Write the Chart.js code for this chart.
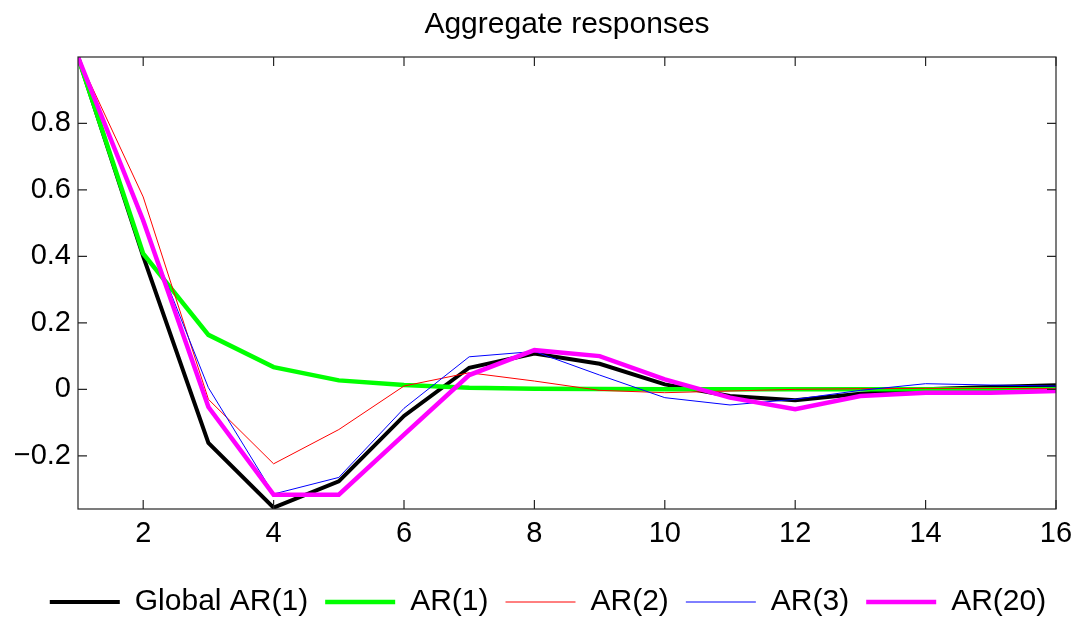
<!DOCTYPE html>
<html>
<head>
<meta charset="utf-8">
<script src="https://cdn.jsdelivr.net/npm/chart.js@4/dist/chart.umd.min.js"></script>
<style>
  html, body { margin: 0; padding: 0; background: #fff; }
  #wrap { width: 1084px; height: 622px; }
</style>
</head>
<body>
<div id="wrap"><canvas id="chart" width="1084" height="622"></canvas></div>
<script>
// data
var steps = [1, 2, 3, 4, 5, 6, 7, 8, 9, 10, 11, 12, 13, 14, 15, 16];
var globalAR1 = [1.0, 0.40, -0.161, -0.356, -0.277, -0.08, 0.065, 0.108, 0.077, 0.015, -0.02, -0.033, -0.013, 0.0, 0.007, 0.012];
var ar1 = [1.0, 0.408, 0.164, 0.067, 0.027, 0.013, 0.005, 0.002, 0.001, 0.0, 0.0, 0.0, 0.0, 0.0, 0.0, 0.0];
var ar2 = [1.0, 0.579, -0.03, -0.224, -0.121, 0.01, 0.05, 0.025, -0.003, -0.01, -0.005, 0.0, 0.002, 0.003, 0.003, 0.002];
var ar3 = [1.0, 0.498, 0.005, -0.315, -0.265, -0.057, 0.098, 0.114, 0.043, -0.025, -0.047, -0.03, -0.003, 0.017, 0.013, 0.01];
var ar20 = [1.0, 0.508, -0.053, -0.317, -0.317, -0.136, 0.043, 0.118, 0.10, 0.03, -0.025, -0.06, -0.02, -0.01, -0.01, -0.005];

var xTicks = [2, 4, 6, 8, 10, 12, 14, 16];
var yTicks = [-0.2, 0, 0.2, 0.4, 0.6, 0.8];

//turn the value arrays into {x,y} points
function pts(ys) {
	return steps.map(function(s, i) { return { x: s, y: ys[i] }; });
}

Chart.defaults.font.family = "'Liberation Sans', Arial, Helvetica, sans-serif";
Chart.defaults.color = '#000';

//matlab style box with inward ticks on all four sides
var boxPlugin = {
	id: 'box',
	afterDatasetsDraw: function(chart) {
		var ctx = chart.ctx, a = chart.chartArea;
		var xs = chart.scales.x, ys = chart.scales.y;
		var len = 9;
		ctx.save();
		ctx.strokeStyle = '#262626';
		ctx.lineWidth = 1.2;
		ctx.beginPath();
		xTicks.forEach(function(t) {
			var px = xs.getPixelForValue(t);
			ctx.moveTo(px, a.bottom); ctx.lineTo(px, a.bottom - len);
			ctx.moveTo(px, a.top); ctx.lineTo(px, a.top + len);
		});
		yTicks.forEach(function(t) {
			var py = ys.getPixelForValue(t);
			ctx.moveTo(a.left, py); ctx.lineTo(a.left + len, py);
			ctx.moveTo(a.right, py); ctx.lineTo(a.right - len, py);
		});
		ctx.stroke();
		ctx.strokeRect(a.left, a.top, a.right - a.left, a.bottom - a.top);
		ctx.restore();
	}
};

var chart = document.getElementById('chart').getContext('2d');
var respChart = new Chart(chart, {
	type: 'line',
	data: {
		datasets: [
			{ label: 'Global AR(1)', data: pts(globalAR1), borderColor: '#000000', backgroundColor: '#000000', borderWidth: 4, order: 4 },
			{ label: 'AR(1)', data: pts(ar1), borderColor: '#00ff00', backgroundColor: '#00ff00', borderWidth: 4.5, order: 3 },
			{ label: 'AR(2)', data: pts(ar2), borderColor: '#ff0000', backgroundColor: '#ff0000', borderWidth: 1, order: 2 },
			{ label: 'AR(3)', data: pts(ar3), borderColor: '#0000ff', backgroundColor: '#0000ff', borderWidth: 1, order: 1 },
			{ label: 'AR(20)', data: pts(ar20), borderColor: '#ff00ff', backgroundColor: '#ff00ff', borderWidth: 4.5, order: 0 }
		]
	},
	options: {
		responsive: false,
		animation: false,
		elements: { point: { radius: 0, hoverRadius: 0 }, line: { tension: 0 } },
		layout: { padding: { left: 12, right: 0, top: 0, bottom: -5 } },
		plugins: {
			title: {
				display: true,
				text: 'Aggregate responses',
				fullSize: false,
				color: '#000',
				font: { size: 30, weight: 'normal' },
				padding: { top: 7, bottom: 14 }
			},
			legend: {
				position: 'bottom',
				align: 'center',
				labels: {
					usePointStyle: true,
					pointStyle: 'line',
					pointStyleWidth: 70,
					padding: 17,
					color: '#000',
					font: { size: 30 },
					sort: function(a, b) { return a.datasetIndex - b.datasetIndex; }
				}
			},
			tooltip: { enabled: false }
		},
		scales: {
			x: {
				type: 'linear',
				min: 1,
				max: 16,
				grid: { display: false, drawTicks: false },
				border: { display: false },
				afterBuildTicks: function(axis) { axis.ticks = xTicks.map(function(v) { return { value: v }; }); },
				afterFit: function(axis) { axis.height = 61; },
				ticks: { padding: 8, font: { size: 29 }, color: '#000', maxRotation: 0 }
			},
			y: {
				type: 'linear',
				min: -0.36,
				max: 1.0,
				grid: { display: false, drawTicks: false },
				border: { display: false },
				afterBuildTicks: function(axis) { axis.ticks = yTicks.map(function(v) { return { value: v }; }); },
				afterFit: function(axis) { axis.width = 66; },
				ticks: {
					padding: 7,
					font: { size: 29 },
					color: '#000',
					callback: function(v) {
						var s = (Math.round(v * 10) / 10).toString();
						return s.replace('-', '\u2212');
					}
				}
			},
			//empty right axis, only keeps a margin on the right of the box
			yRight: {
				type: 'linear',
				position: 'right',
				min: -0.36,
				max: 1.0,
				grid: { display: false, drawTicks: false },
				border: { display: false },
				ticks: { display: false },
				afterFit: function(axis) { axis.width = 28; }
			}
		}
	},
	plugins: [boxPlugin]
});
</script>
</body>
</html>
